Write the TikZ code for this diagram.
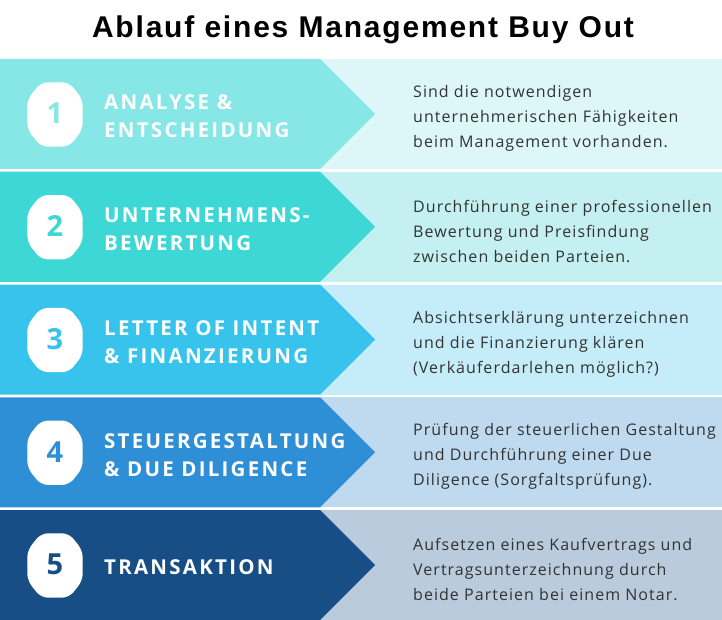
\documentclass[tikz,border=0pt]{standalone}
\usepackage{fontspec}
\newfontfamily\titlefont[LetterSpace=6]{Liberation Sans}
\newfontfamily\stepfont[LetterSpace=11]{Open Sans}
\newfontfamily\descfont[LetterSpace=6.5]{Open Sans}
\newfontfamily\numfont{Open Sans}
\definecolor{arrA}{HTML}{87E6E6}
\definecolor{panA}{HTML}{DDF7F8}
\definecolor{arrB}{HTML}{3DD8D6}
\definecolor{panB}{HTML}{C5F0F1}
\definecolor{arrC}{HTML}{37C3EC}
\definecolor{panC}{HTML}{C5ECF9}
\definecolor{arrD}{HTML}{2E8ED6}
\definecolor{panD}{HTML}{BFDAEF}
\definecolor{arrE}{HTML}{174E86}
\definecolor{panE}{HTML}{B9CBDC}
\definecolor{desccol}{HTML}{333333}
\tikzset{
  steptext/.style={anchor=west, inner sep=0pt, align=left, text=white,
    font=\stepfont\bfseries\fontsize{20.5}{28}\selectfont},
  desctext/.style={anchor=west, inner sep=0pt, align=left, text=desccol,
    font=\descfont\fontsize{16}{25}\selectfont},
  numtext/.style={inner sep=0pt, font=\numfont\bfseries\fontsize{29}{30}\selectfont},
  titletext/.style={anchor=base, inner sep=0pt, text=black,
    font=\titlefont\bfseries\fontsize{30}{34}\selectfont}
}
\newcommand\mborow[6]{%
  \fill[#4] (320,{#2}) rectangle (722,{#2+110});
  \fill[#3] (0,{#2}) -- (320,{#2}) -- (375,{#2+55}) -- (320,{#2+110}) -- (0,{#2+110}) -- cycle;
  \begin{scope}[shift={(55,{#2+55.5})}]
    \fill[white, rounded corners=7pt] (-27.7,-15) -- (-14,-32.2) -- (14,-32.2) -- (27.7,-15)
      -- (27.7,15) -- (14,32.2) -- (-14,32.2) -- (-27.7,15) -- cycle;
    \node[numtext, text=#3] (n#1) at (0,-1) {#1};
  \end{scope}
  \node[steptext] (s#1) at (104,{#2+57.5}) {#5};
  \node[desctext] (d#1) at (413,{#2+59.5}) {#6};
}
\begin{document}
\begin{tikzpicture}[x=1pt,y=-1pt]
\useasboundingbox (0,0) rectangle (722,620);
\fill[white] (0,0) rectangle (722,620);
\node[titletext] (title) at (363,37.7) {Ablauf eines Management Buy Out};
\mborow{1}{59}{arrA}{panA}{ANALYSE \&\\ENTSCHEIDUNG}{Sind die notwendigen\\unternehmerischen Fähigkeiten\\beim Management vorhanden.}
\mborow{2}{171.75}{arrB}{panB}{UNTERNEHMENS-\\BEWERTUNG}{Durchführung einer professionellen\\Bewertung und Preisfindung\\zwischen beiden Parteien.}
\mborow{3}{284.5}{arrC}{panC}{LETTER OF INTENT\\\& FINANZIERUNG}{Absichtserklärung unterzeichnen\\und die Finanzierung klären\\(Verkäuferdarlehen möglich?)}
\mborow{4}{397.25}{arrD}{panD}{STEUERGESTALTUNG\\\& DUE DILIGENCE}{Prüfung der steuerlichen Gestaltung\\und Durchführung einer Due\\Diligence (Sorgfaltsprüfung).}
\mborow{5}{510}{arrE}{panE}{TRANSAKTION}{Aufsetzen eines Kaufvertrags und\\Vertragsunterzeichnung durch\\beide Parteien bei einem Notar.}
\end{tikzpicture}
\end{document}
